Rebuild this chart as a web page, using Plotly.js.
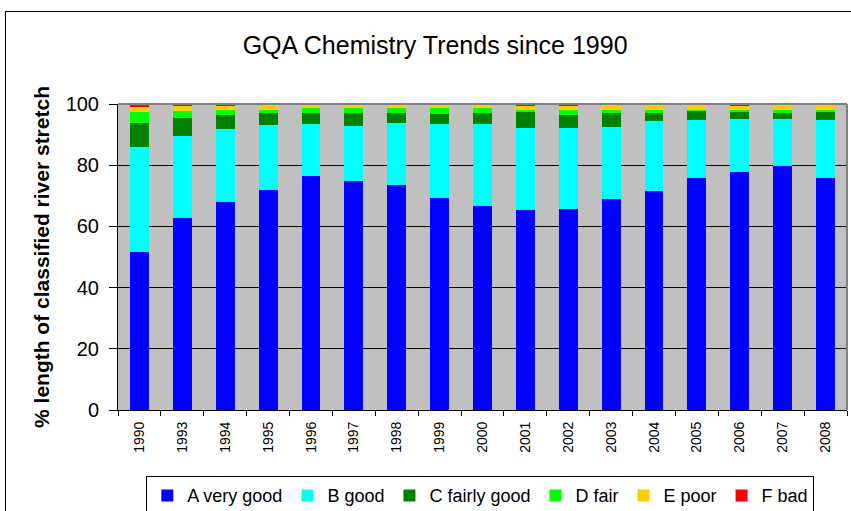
<!DOCTYPE html>
<html>
<head>
<meta charset="utf-8">
<script src="https://cdn.plot.ly/plotly-3.0.1.min.js"></script>
<style>
  html, body { margin: 0; padding: 0; background: #fff; overflow: hidden; }
  #chart { width: 851px; height: 511px; }
  #frame { position: absolute; left: 5px; top: 11px; width: 900px; height: 600px;
           border: 1px solid #000; pointer-events: none; }
</style>
</head>
<body>
<div id="chart"></div>
<div id="frame"></div>
<script>
var years = ['1990','1993','1994','1995','1996','1997','1998','1999','2000','2001','2002','2003','2004','2005','2006','2007','2008'];
var aVeryGood   = [51.6, 62.7, 68.0, 71.9, 76.5, 74.8, 73.5, 69.3, 66.7, 65.4, 65.7, 69.0, 71.6, 75.8, 77.8, 79.7, 75.8];
var bGood       = [34.3, 26.8, 23.9, 21.2, 17.0, 18.0, 20.3, 24.2, 26.8, 26.8, 26.5, 23.5, 22.9, 19.0, 17.3, 15.4, 19.0];
var cFairlyGood = [7.8, 5.9, 4.6, 3.9, 3.6, 4.25, 3.3, 3.3, 3.6, 5.2, 4.25, 4.6, 2.6, 2.9, 2.3, 2.0, 2.6];
var dFair       = [3.6, 2.3, 1.6, 1.0, 1.6, 1.6, 1.6, 2.0, 1.6, 0.65, 1.6, 1.0, 1.0, 0.33, 0.65, 1.0, 0.65];
var ePoor       = [1.6, 1.6, 1.3, 1.96, 1.3, 1.3, 1.3, 1.3, 1.3, 1.3, 1.3, 1.96, 1.96, 1.96, 1.3, 1.96, 1.96];
var fBad        = [1.0, 0.65, 0.65, 0, 0, 0, 0, 0, 0, 0.65, 0.65, 0, 0, 0, 0.65, 0, 0];

var seriesNames = ['A very good', 'B good', 'C fairly good', 'D fair', 'E poor', 'F bad'];
var seriesData = [aVeryGood, bGood, cFairlyGood, dFair, ePoor, fBad];
var seriesColors = ['#0000FF', '#00FFFF', '#008000', '#00FF00', '#FFCC00', '#FF0000'];

var traces = seriesNames.map(function (n, i) {
  return { type: 'bar', name: n, x: years, y: seriesData[i],
           marker: { color: seriesColors[i], line: { width: 0 } } };
});

var layout = {
  width: 851, height: 511,
  barmode: 'stack',
  bargap: 0.56,
  font: { family: 'Liberation Sans, Arial, sans-serif', color: '#000' },
  paper_bgcolor: '#ffffff',
  plot_bgcolor: '#C0C0C0',
  margin: { l: 118, r: 4, t: 104, b: 101 },
  title: { text: 'GQA Chemistry Trends since 1990', font: { size: 25, color: '#000' },
           xref: 'paper', x: 0.435, xanchor: 'center', y: 0.912, yanchor: 'middle' },
  xaxis: {
    type: 'category', tickangle: -90, tickfont: { size: 14 },
    showline: true, linecolor: '#000', linewidth: 1,
    ticks: 'outside', tickson: 'boundaries', ticklen: 5, tickcolor: '#000',
    ticklabelstandoff: 5,
    showgrid: false, automargin: false
  },
  yaxis: {
    range: [0, 100], dtick: 20, tickfont: { size: 20 },
    showline: true, linecolor: '#000', linewidth: 1,
    ticks: 'outside', ticklen: 8, tickcolor: '#000', ticklabelstandoff: 6,
    showgrid: true, gridcolor: '#000', gridwidth: 1, zeroline: false,
    automargin: false,
    title: { text: '% length of classified river stretch', font: { size: 21, weight: 'bold' }, standoff: 10 }
  },
  shapes: [
    { type: 'line', xref: 'paper', yref: 'paper', x0: 0, x1: 1, y0: 1, y1: 1, line: { color: '#808080', width: 2 } },
    { type: 'line', xref: 'paper', yref: 'paper', x0: 1, x1: 1, y0: 0, y1: 1, line: { color: '#808080', width: 2 } }
  ],
  showlegend: true,
  legend: {
    orientation: 'h', xref: 'paper', x: 0.497, xanchor: 'center',
    yref: 'container', y: 0.068, yanchor: 'top',
    font: { size: 18 }, bordercolor: '#000', borderwidth: 1, bgcolor: '#fff',
    traceorder: 'normal', itemwidth: 30
  }
};

Plotly.newPlot('chart', traces, layout, { displayModeBar: false, staticPlot: true });
</script>
</body>
</html>
